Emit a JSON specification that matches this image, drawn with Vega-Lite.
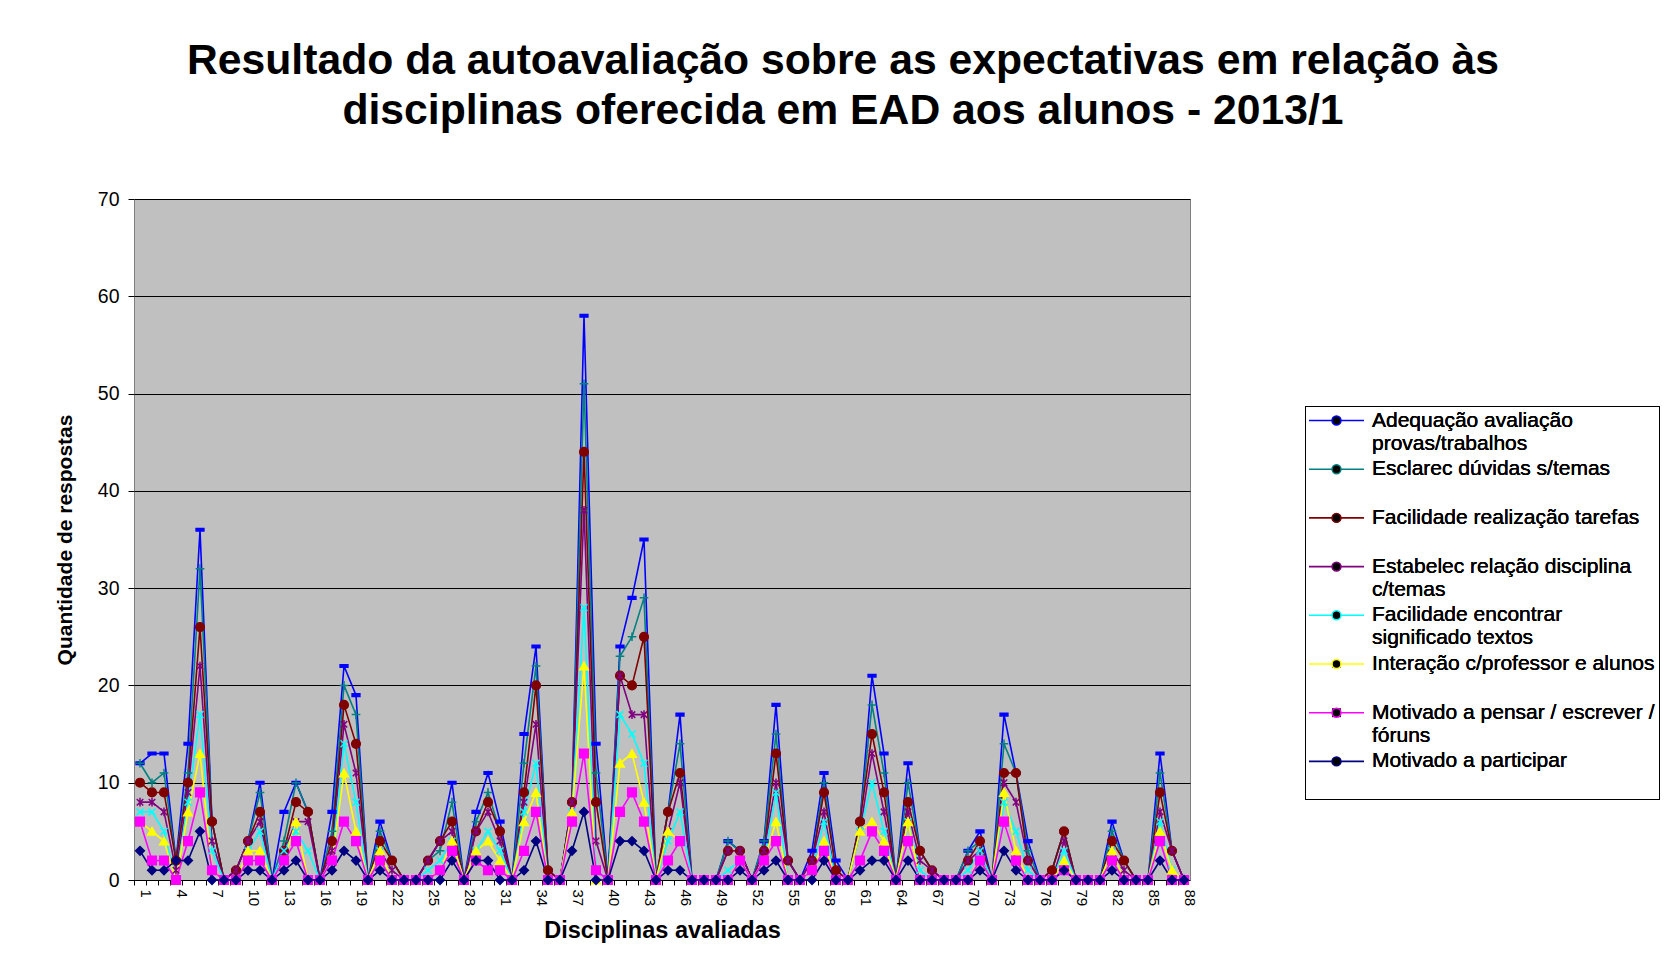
{
  "$schema": "https://vega.github.io/schema/vega-lite/v6.json",
  "width": 1056,
  "height": 681,
  "autosize": {"type": "none"},
  "padding": {"left": 134, "top": 199, "right": 476, "bottom": 100},
  "background": "white",
  "title": {
    "text": ["Resultado da autoavaliação sobre as expectativas em relação às", "disciplinas oferecida em EAD aos alunos - 2013/1"],
    "font": "Liberation Sans",
    "fontSize": 42.7,
    "fontWeight": "bold",
    "color": "black",
    "lineHeight": 50,
    "baseline": "alphabetic",
    "anchor": "middle",
    "frame": "group",
    "dx": 181,
    "offset": 22
  },
  "config": {
    "view": {"fill": "#C0C0C0", "stroke": "#808080", "strokeWidth": 1},
    "font": "Liberation Sans"
  },
  "data": {
    "values": [
      {"d": 1, "A": 12, "E": 12, "F": 10, "S": 8, "T": 7, "I": 6, "M": 6, "P": 3},
      {"d": 2, "A": 13, "E": 10, "F": 9, "S": 8, "T": 7, "I": 5, "M": 2, "P": 1},
      {"d": 3, "A": 13, "E": 11, "F": 9, "S": 7, "T": 5, "I": 4, "M": 2, "P": 1},
      {"d": 4, "A": 2, "E": 2, "F": 2, "S": 1, "T": 0, "I": 0, "M": 0, "P": 2},
      {"d": 5, "A": 14, "E": 11, "F": 10, "S": 9, "T": 8, "I": 7, "M": 4, "P": 2},
      {"d": 6, "A": 36, "E": 32, "F": 26, "S": 22, "T": 17, "I": 13, "M": 9, "P": 5},
      {"d": 7, "A": 6, "E": 6, "F": 6, "S": 4, "T": 3, "I": 1, "M": 1, "P": 0},
      {"d": 8, "A": 0, "E": 0, "F": 0, "S": 0, "T": 0, "I": 0, "M": 0, "P": 0},
      {"d": 9, "A": 1, "E": 1, "F": 1, "S": 1, "T": 0, "I": 0, "M": 0, "P": 0},
      {"d": 10, "A": 4, "E": 4, "F": 4, "S": 4, "T": 3, "I": 3, "M": 2, "P": 1},
      {"d": 11, "A": 10, "E": 9, "F": 7, "S": 6, "T": 5, "I": 3, "M": 2, "P": 1},
      {"d": 12, "A": 0, "E": 0, "F": 0, "S": 0, "T": 0, "I": 0, "M": 0, "P": 0},
      {"d": 13, "A": 7, "E": 4, "F": 3, "S": 3, "T": 3, "I": 2, "M": 2, "P": 1},
      {"d": 14, "A": 10, "E": 10, "F": 8, "S": 6, "T": 5, "I": 6, "M": 4, "P": 2},
      {"d": 15, "A": 7, "E": 7, "F": 7, "S": 6, "T": 3, "I": 0, "M": 0, "P": 0},
      {"d": 16, "A": 0, "E": 0, "F": 0, "S": 0, "T": 0, "I": 0, "M": 0, "P": 0},
      {"d": 17, "A": 7, "E": 5, "F": 4, "S": 3, "T": 2, "I": 2, "M": 2, "P": 1},
      {"d": 18, "A": 22, "E": 20, "F": 18, "S": 16, "T": 14, "I": 11, "M": 6, "P": 3},
      {"d": 19, "A": 19, "E": 17, "F": 14, "S": 11, "T": 8, "I": 5, "M": 4, "P": 2},
      {"d": 20, "A": 0, "E": 0, "F": 0, "S": 0, "T": 0, "I": 0, "M": 0, "P": 0},
      {"d": 21, "A": 6, "E": 5, "F": 4, "S": 3, "T": 3, "I": 3, "M": 2, "P": 1},
      {"d": 22, "A": 2, "E": 2, "F": 2, "S": 1, "T": 0, "I": 0, "M": 0, "P": 0},
      {"d": 23, "A": 0, "E": 0, "F": 0, "S": 0, "T": 0, "I": 0, "M": 0, "P": 0},
      {"d": 24, "A": 0, "E": 0, "F": 0, "S": 0, "T": 0, "I": 0, "M": 0, "P": 0},
      {"d": 25, "A": 2, "E": 2, "F": 2, "S": 2, "T": 1, "I": 0, "M": 0, "P": 0},
      {"d": 26, "A": 4, "E": 3, "F": 4, "S": 4, "T": 2, "I": 1, "M": 1, "P": 0},
      {"d": 27, "A": 10, "E": 8, "F": 6, "S": 5, "T": 4, "I": 4, "M": 3, "P": 2},
      {"d": 28, "A": 0, "E": 0, "F": 0, "S": 0, "T": 0, "I": 0, "M": 0, "P": 0},
      {"d": 29, "A": 7, "E": 6, "F": 5, "S": 5, "T": 3, "I": 3, "M": 2, "P": 2},
      {"d": 30, "A": 11, "E": 9, "F": 8, "S": 7, "T": 5, "I": 4, "M": 1, "P": 2},
      {"d": 31, "A": 6, "E": 5, "F": 5, "S": 4, "T": 3, "I": 2, "M": 1, "P": 0},
      {"d": 32, "A": 0, "E": 0, "F": 0, "S": 0, "T": 0, "I": 0, "M": 0, "P": 0},
      {"d": 33, "A": 15, "E": 12, "F": 9, "S": 8, "T": 7, "I": 6, "M": 3, "P": 1},
      {"d": 34, "A": 24, "E": 22, "F": 20, "S": 16, "T": 12, "I": 9, "M": 7, "P": 4},
      {"d": 35, "A": 1, "E": 1, "F": 1, "S": 0, "T": 0, "I": 0, "M": 0, "P": 0},
      {"d": 36, "A": 0, "E": 0, "F": 0, "S": 0, "T": 0, "I": 0, "M": 0, "P": 0},
      {"d": 37, "A": 8, "E": 8, "F": 8, "S": 8, "T": 7, "I": 7, "M": 6, "P": 3},
      {"d": 38, "A": 58, "E": 51, "F": 44, "S": 38, "T": 28, "I": 22, "M": 13, "P": 7},
      {"d": 39, "A": 14, "E": 11, "F": 8, "S": 4, "T": 1, "I": 0, "M": 1, "P": 0},
      {"d": 40, "A": 0, "E": 0, "F": 0, "S": 0, "T": 0, "I": 0, "M": 0, "P": 0},
      {"d": 41, "A": 24, "E": 23, "F": 21, "S": 21, "T": 17, "I": 12, "M": 7, "P": 4},
      {"d": 42, "A": 29, "E": 25, "F": 20, "S": 17, "T": 15, "I": 13, "M": 9, "P": 4},
      {"d": 43, "A": 35, "E": 29, "F": 25, "S": 17, "T": 12, "I": 8, "M": 6, "P": 3},
      {"d": 44, "A": 0, "E": 0, "F": 0, "S": 0, "T": 0, "I": 0, "M": 0, "P": 0},
      {"d": 45, "A": 7, "E": 7, "F": 7, "S": 5, "T": 4, "I": 5, "M": 2, "P": 1},
      {"d": 46, "A": 17, "E": 14, "F": 11, "S": 10, "T": 7, "I": 4, "M": 4, "P": 1},
      {"d": 47, "A": 0, "E": 0, "F": 0, "S": 0, "T": 0, "I": 0, "M": 0, "P": 0},
      {"d": 48, "A": 0, "E": 0, "F": 0, "S": 0, "T": 0, "I": 0, "M": 0, "P": 0},
      {"d": 49, "A": 0, "E": 0, "F": 0, "S": 0, "T": 0, "I": 0, "M": 0, "P": 0},
      {"d": 50, "A": 4, "E": 4, "F": 3, "S": 3, "T": 1, "I": 0, "M": 0, "P": 0},
      {"d": 51, "A": 3, "E": 3, "F": 3, "S": 3, "T": 2, "I": 2, "M": 2, "P": 1},
      {"d": 52, "A": 0, "E": 0, "F": 0, "S": 0, "T": 0, "I": 0, "M": 0, "P": 0},
      {"d": 53, "A": 4, "E": 4, "F": 3, "S": 3, "T": 2, "I": 2, "M": 2, "P": 1},
      {"d": 54, "A": 18, "E": 15, "F": 13, "S": 10, "T": 9, "I": 6, "M": 4, "P": 2},
      {"d": 55, "A": 2, "E": 2, "F": 2, "S": 2, "T": 0, "I": 0, "M": 0, "P": 0},
      {"d": 56, "A": 0, "E": 0, "F": 0, "S": 0, "T": 0, "I": 0, "M": 0, "P": 0},
      {"d": 57, "A": 3, "E": 2, "F": 2, "S": 2, "T": 1, "I": 1, "M": 1, "P": 0},
      {"d": 58, "A": 11, "E": 10, "F": 9, "S": 7, "T": 6, "I": 4, "M": 3, "P": 2},
      {"d": 59, "A": 2, "E": 1, "F": 1, "S": 0, "T": 0, "I": 0, "M": 0, "P": 0},
      {"d": 60, "A": 0, "E": 0, "F": 0, "S": 0, "T": 0, "I": 0, "M": 0, "P": 0},
      {"d": 61, "A": 6, "E": 6, "F": 6, "S": 5, "T": 5, "I": 5, "M": 2, "P": 1},
      {"d": 62, "A": 21, "E": 18, "F": 15, "S": 13, "T": 10, "I": 6, "M": 5, "P": 2},
      {"d": 63, "A": 13, "E": 11, "F": 9, "S": 7, "T": 5, "I": 4, "M": 3, "P": 2},
      {"d": 64, "A": 0, "E": 0, "F": 0, "S": 0, "T": 0, "I": 0, "M": 0, "P": 0},
      {"d": 65, "A": 12, "E": 10, "F": 8, "S": 7, "T": 6, "I": 6, "M": 4, "P": 2},
      {"d": 66, "A": 3, "E": 3, "F": 3, "S": 2, "T": 1, "I": 0, "M": 0, "P": 0},
      {"d": 67, "A": 1, "E": 1, "F": 1, "S": 1, "T": 0, "I": 0, "M": 0, "P": 0},
      {"d": 68, "A": 0, "E": 0, "F": 0, "S": 0, "T": 0, "I": 0, "M": 0, "P": 0},
      {"d": 69, "A": 0, "E": 0, "F": 0, "S": 0, "T": 0, "I": 0, "M": 0, "P": 0},
      {"d": 70, "A": 3, "E": 3, "F": 2, "S": 2, "T": 1, "I": 0, "M": 0, "P": 0},
      {"d": 71, "A": 5, "E": 4, "F": 4, "S": 3, "T": 3, "I": 2, "M": 2, "P": 1},
      {"d": 72, "A": 0, "E": 0, "F": 0, "S": 0, "T": 0, "I": 0, "M": 0, "P": 0},
      {"d": 73, "A": 17, "E": 14, "F": 11, "S": 10, "T": 8, "I": 9, "M": 6, "P": 3},
      {"d": 74, "A": 11, "E": 11, "F": 11, "S": 8, "T": 5, "I": 3, "M": 2, "P": 1},
      {"d": 75, "A": 4, "E": 3, "F": 2, "S": 2, "T": 1, "I": 0, "M": 0, "P": 0},
      {"d": 76, "A": 0, "E": 0, "F": 0, "S": 0, "T": 0, "I": 0, "M": 0, "P": 0},
      {"d": 77, "A": 1, "E": 1, "F": 1, "S": 0, "T": 0, "I": 0, "M": 0, "P": 0},
      {"d": 78, "A": 5, "E": 5, "F": 5, "S": 4, "T": 3, "I": 2, "M": 1, "P": 1},
      {"d": 79, "A": 0, "E": 0, "F": 0, "S": 0, "T": 0, "I": 0, "M": 0, "P": 0},
      {"d": 80, "A": 0, "E": 0, "F": 0, "S": 0, "T": 0, "I": 0, "M": 0, "P": 0},
      {"d": 81, "A": 0, "E": 0, "F": 0, "S": 0, "T": 0, "I": 0, "M": 0, "P": 0},
      {"d": 82, "A": 6, "E": 5, "F": 4, "S": 3, "T": 3, "I": 3, "M": 2, "P": 1},
      {"d": 83, "A": 2, "E": 2, "F": 2, "S": 1, "T": 0, "I": 0, "M": 0, "P": 0},
      {"d": 84, "A": 0, "E": 0, "F": 0, "S": 0, "T": 0, "I": 0, "M": 0, "P": 0},
      {"d": 85, "A": 0, "E": 0, "F": 0, "S": 0, "T": 0, "I": 0, "M": 0, "P": 0},
      {"d": 86, "A": 13, "E": 11, "F": 9, "S": 7, "T": 6, "I": 5, "M": 4, "P": 2},
      {"d": 87, "A": 3, "E": 3, "F": 3, "S": 3, "T": 1, "I": 1, "M": 0, "P": 0},
      {"d": 88, "A": 0, "E": 0, "F": 0, "S": 0, "T": 0, "I": 0, "M": 0, "P": 0}
    ]
  },
  "transform": [{"fold": ["A", "E", "F", "S", "T", "I", "M", "P"], "as": ["s", "v"]}],
  "encoding": {
    "x": {
      "field": "d",
      "type": "ordinal",
      "sort": null,
      "scale": {"type": "band", "paddingInner": 0, "paddingOuter": 0},
      "axis": {
        "title": "Disciplinas avaliadas",
        "titleFont": "Liberation Sans",
        "titleFontSize": 23.5,
        "titleFontWeight": "bold",
        "titleColor": "black",
        "titlePadding": 13,
        "labelExpr": "(datum.value - 1) % 3 == 0 ? datum.label : ''",
        "labelAngle": 90,
        "labelAlign": "left",
        "labelBaseline": "middle",
        "labelFont": "Liberation Sans",
        "labelFontSize": 15,
        "labelColor": "black",
        "labelPadding": 4,
        "labelOffset": 6,
        "bandPosition": 0,
        "labelOverlap": false,
        "domain": false,
        "ticks": true,
        "tickColor": "#000000",
        "tickSize": 5,
        "grid": false
      }
    },
    "y": {
      "field": "v",
      "type": "quantitative",
      "scale": {"domain": [0, 70], "nice": false},
      "axis": {
        "title": "Quantidade de respostas",
        "titleFont": "Liberation Sans",
        "titleFontSize": 21,
        "titleFontWeight": "bold",
        "titleColor": "black",
        "titlePadding": 22,
        "values": [0, 10, 20, 30, 40, 50, 60, 70],
        "labelFont": "Liberation Sans",
        "labelFontSize": 19.5,
        "labelColor": "black",
        "labelPadding": 9,
        "domain": false,
        "tickColor": "#000000",
        "tickSize": 6,
        "grid": true,
        "gridColor": "#000000",
        "gridWidth": 1
      }
    }
  },
  "layer": [
    {
      "mark": {"type": "line", "strokeWidth": 1.6},
      "encoding": {
        "color": {
          "field": "s",
          "type": "nominal",
          "scale": {"domain": ["A", "E", "F", "S", "T", "I", "M", "P"], "range": ["#0000FF", "#008080", "#800000", "#800080", "#00FFFF", "#FFFF00", "#FF00FF", "#000080"]},
          "legend": {
            "orient": "none", "legendX": 1171, "legendY": 207, "title": null,
            "padding": 4, "symbolType": "M-5.5,0L5.5,0", "symbolSize": 100, "symbolStrokeWidth": 1.6,
            "symbolOffset": 17, "labelOffset": 25,
            "labelFont": "Liberation Sans", "labelFontSize": 21, "labelOpacity": 0, "labelLimit": 500,
            "labelBaseline": "middle", "rowPadding": 3.7,
            "labelExpr": "datum.value == 'A' ? ['Adequação avaliação', 'provas/trabalhos'] : datum.value == 'E' ? ['Esclarec dúvidas s/temas', ''] : datum.value == 'F' ? ['Facilidade realização tarefas', ''] : datum.value == 'S' ? ['Estabelec relação disciplina', 'c/temas'] : datum.value == 'T' ? ['Facilidade encontrar', 'significado textos'] : datum.value == 'I' ? ['Interação c/professor e alunos', ''] : datum.value == 'M' ? ['Motivado a pensar / escrever /', 'fóruns'] : ['Motivado a participar', '']"
          }
        }
      }
    },
    {
      "mark": {"type": "point", "filled": true, "opacity": 1, "size": 75, "strokeWidth": 1.5},
      "encoding": {
        "shape": {
          "field": "s",
          "type": "nominal",
          "sort": ["A", "E", "F", "S", "T", "I", "M", "P"],
          "scale": {"range": ["M-0.9,-0.3L0.9,-0.3L0.9,0.3L-0.9,0.3Z", "M-1,0L1,0M0,-1L0,1", "circle", "M0,-1L0,1M-0.75,-0.75L0.75,0.75M-0.75,0.75L0.75,-0.75", "M-0.8,-0.8L0.8,0.8M-0.8,0.8L0.8,-0.8", "triangle-up", "square", "diamond"]},
          "legend": {
            "orient": "none", "legendX": 1171, "legendY": 207, "title": null,
            "strokeColor": "#000000", "padding": 4, "symbolSize": 80, "symbolStrokeWidth": 1.5,
            "symbolOffset": 17, "labelOffset": 25,
            "labelFont": "Liberation Sans", "labelFontSize": 21, "labelColor": "black", "labelLimit": 500,
            "labelBaseline": "middle", "rowPadding": 3.7,
            "labelExpr": "datum.value == 'A' ? ['Adequação avaliação', 'provas/trabalhos'] : datum.value == 'E' ? ['Esclarec dúvidas s/temas', ''] : datum.value == 'F' ? ['Facilidade realização tarefas', ''] : datum.value == 'S' ? ['Estabelec relação disciplina', 'c/temas'] : datum.value == 'T' ? ['Facilidade encontrar', 'significado textos'] : datum.value == 'I' ? ['Interação c/professor e alunos', ''] : datum.value == 'M' ? ['Motivado a pensar / escrever /', 'fóruns'] : ['Motivado a participar', '']"
          }
        },
        "fill": {
          "field": "s",
          "type": "nominal",
          "sort": ["A", "E", "F", "S", "T", "I", "M", "P"],
          "scale": {"range": ["#0000FF", "#008080", "#800000", "#800080", "#00FFFF", "#FFFF00", "#FF00FF", "#000080"]},
          "legend": {
            "orient": "none", "legendX": 1171, "legendY": 207, "title": null,
            "strokeColor": "#000000", "padding": 4, "symbolSize": 80, "symbolStrokeWidth": 1.5,
            "symbolOffset": 17, "labelOffset": 25,
            "labelFont": "Liberation Sans", "labelFontSize": 21, "labelColor": "black", "labelLimit": 500,
            "labelBaseline": "middle", "rowPadding": 3.7,
            "labelExpr": "datum.value == 'A' ? ['Adequação avaliação', 'provas/trabalhos'] : datum.value == 'E' ? ['Esclarec dúvidas s/temas', ''] : datum.value == 'F' ? ['Facilidade realização tarefas', ''] : datum.value == 'S' ? ['Estabelec relação disciplina', 'c/temas'] : datum.value == 'T' ? ['Facilidade encontrar', 'significado textos'] : datum.value == 'I' ? ['Interação c/professor e alunos', ''] : datum.value == 'M' ? ['Motivado a pensar / escrever /', 'fóruns'] : ['Motivado a participar', '']"
          }
        },
        "stroke": {
          "field": "s",
          "type": "nominal",
          "sort": ["A", "E", "F", "S", "T", "I", "M", "P"],
          "scale": {"range": ["#0000FF", "#008080", "#800000", "#800080", "#00FFFF", "#FFFF00", "#FF00FF", "#000080"]},
          "legend": {
            "orient": "none", "legendX": 1171, "legendY": 207, "title": null,
            "strokeColor": "#000000", "padding": 4, "symbolSize": 80, "symbolStrokeWidth": 1.5,
            "symbolOffset": 17, "labelOffset": 25,
            "labelFont": "Liberation Sans", "labelFontSize": 21, "labelColor": "black", "labelLimit": 500,
            "labelBaseline": "middle", "rowPadding": 3.7,
            "labelExpr": "datum.value == 'A' ? ['Adequação avaliação', 'provas/trabalhos'] : datum.value == 'E' ? ['Esclarec dúvidas s/temas', ''] : datum.value == 'F' ? ['Facilidade realização tarefas', ''] : datum.value == 'S' ? ['Estabelec relação disciplina', 'c/temas'] : datum.value == 'T' ? ['Facilidade encontrar', 'significado textos'] : datum.value == 'I' ? ['Interação c/professor e alunos', ''] : datum.value == 'M' ? ['Motivado a pensar / escrever /', 'fóruns'] : ['Motivado a participar', '']"
          }
        }
      }
    }
  ]
}
